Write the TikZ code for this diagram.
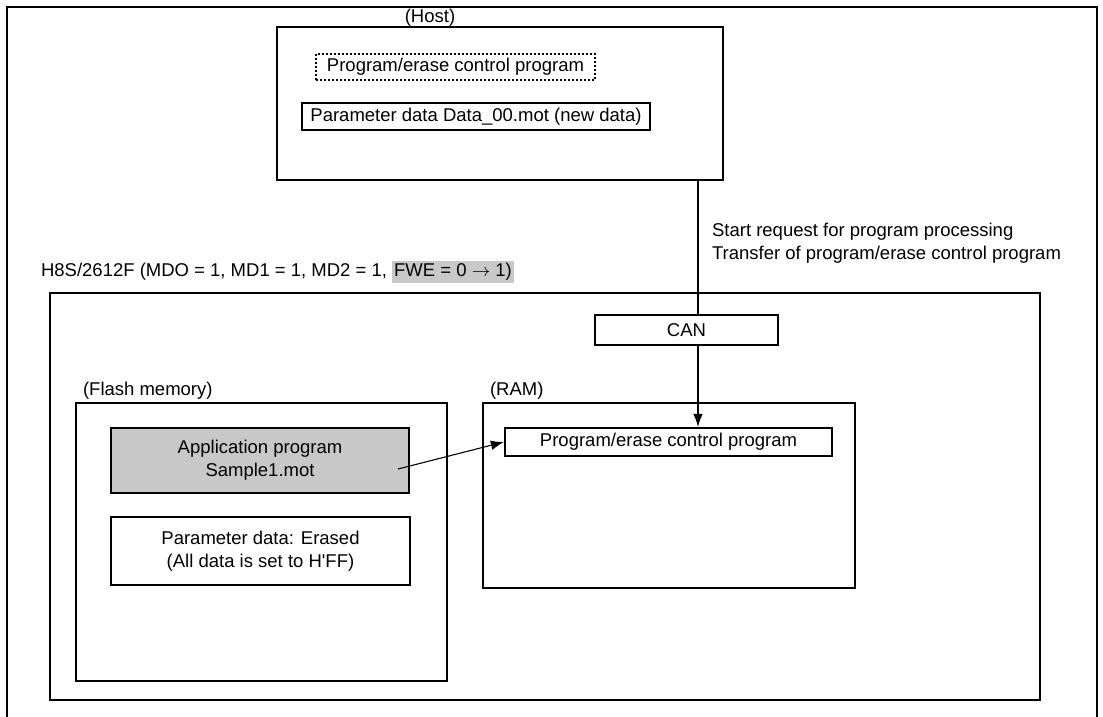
\documentclass[tikz,border=0pt]{standalone}
\usepackage{fontspec}
\setmainfont{Liberation Sans}
\usetikzlibrary{positioning,fit,arrows.meta}

\begin{document}
\begin{tikzpicture}[x=0.5pt,y=-0.5pt,
    font=\fontsize{9.25}{11.5}\selectfont,
    frame/.style={draw, line width=1.1pt, inner sep=0pt},
    link/.style={line width=0.55pt},
    tip/.style={-{Latex[length=6.5pt,width=4.8pt]}}]
    \useasboundingbox (0,0) rectangle (1103,717);

    % Outer frame
    \draw[line width=1.1pt] (7,740) -- (7,7) -- (1097,7) -- (1097,740);

    % Host
    \node at (430,18) (hostlbl) {(Host)};
    \node[frame, fit={(277,27) (723,180)}] (host) {};
    \node[frame, dash pattern=on 1pt off 1pt, fit={(316,54) (595,80)},
        label=center:{Program/erase control program}] (ctrlhost) {};
    \node[frame, fit={(302,103) (650,130)},
        label=center:{Parameter data Data\_00.mot (new data)}] (paramnew) {};

    % Transfer note
    \node[anchor=west, align=left] at (705,243) (note) {Start request for program processing\\Transfer of program/erase control program};

    % Target chip
    \node[anchor=west] at (34,272) (chiplbl) {H8S/2612F (MDO = 1, MD1 = 1, MD2 = 1, {\fboxsep=1pt\colorbox{gray!43}{FWE = 0 $\rightarrow$ 1)}}};
    \node[frame, fit={(50,293) (1040,700)}] (chip) {};
    \node[frame, fit={(595,315) (778,345)}, label=center:CAN] (can) {};

    % Flash memory
    \node[anchor=west] at (76,391) (flashlbl) {(Flash memory)};
    \node[frame, fit={(76,403) (447,681)}] (flash) {};
    \node[frame, fill=gray!43, fit={(111,428) (409,493)},
        label={[align=center]center:Application program\\Sample1.mot}] (app) {};
    \node[frame, fit={(111,517) (410,585)},
        label={[align=center]center:Parameter data: Erased\\(All data is set to H\textquotesingle FF)}] (paramold) {};

    % RAM
    \node[anchor=west] at (483,391) (ramlbl) {(RAM)};
    \node[frame, fit={(483,403) (855,588)}] (ram) {};
    \node[frame, fit={(505,428) (832,456)},
        label=center:{Program/erase control program}] (ctrlram) {};

    % Connectors
    \coordinate (bus) at (698,0);
    \coordinate (appsrc) at (398,469);
    \draw[link] (host.south -| bus) -- (can.north -| bus);
    \draw[link, tip] (can.south -| bus) -- (ctrlram.north -| bus);
    \draw[link, tip] (appsrc) -- (ctrlram.west);
\end{tikzpicture}
\end{document}
